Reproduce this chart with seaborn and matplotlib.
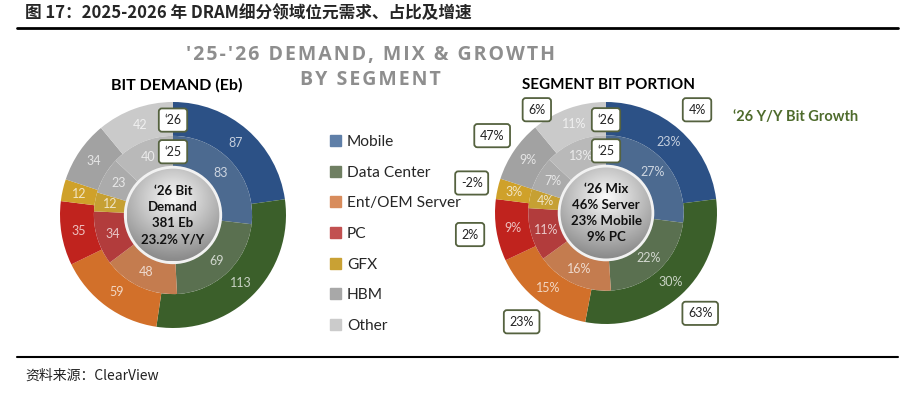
import matplotlib.pyplot as plt
import numpy as np
import seaborn as sns
from matplotlib.colors import to_rgb
from matplotlib.lines import Line2D
from matplotlib.patches import Circle, Patch

segments = ["Mobile", "Data Center", "Ent/OEM Server", "PC", "GFX", "HBM", "Other"]
demand_26 = [87, 113, 59, 35, 12, 34, 42]
demand_25 = [83, 69, 48, 34, 12, 23, 40]
mix_26 = [23, 30, 15, 9, 3, 9, 11]
mix_25 = [27, 22, 16, 11, 4, 7, 13]
growth_26 = [4, 63, 23, 2, -2, 47, 6]

outer_colors = sns.color_palette(["#2C5186", "#3B5F2A", "#D2702A", "#C0231E",
                                  "#CFA12A", "#A2A2A2", "#CACACA"])
inner_colors = sns.color_palette(["#4C6A90", "#5A7050", "#C47C4F", "#B23C3C",
                                  "#C6A033", "#ABABAB", "#B9B9B9"])
legend_colors = sns.color_palette(["#5F7FA8", "#6F7F62", "#D88C5C", "#C25151",
                                   "#C9A134", "#A8A8A8", "#CBCBCB"])

sns.set_theme(style="white")
plt.rcParams['font.family'] = ['Lato', 'Noto Sans CJK SC', 'DejaVu Sans']

W, H = 913, 394
fig = plt.figure(figsize=(W / 100, H / 100), dpi=100)


def px(x, y):
    return x / W, 1 - y / H


def light(c, k=0.72):
    return tuple(np.array(to_rgb(c)) * (1 - k) + k)


box_edge = "#55623F"


def tag(ax, x, y, s, size=9):
    ax.text(x, y, s, ha='center', va='center', fontsize=size, color='#222222',
            bbox=dict(boxstyle='round,pad=0.45,rounding_size=0.25', fc='white',
                      ec=box_edge, lw=1.3), zorder=6)


def donut(cx, cy, R, outer, inner, fmt, center_text):
    pad = 1.45
    ax = fig.add_axes([(cx - pad * R) / W, (H - cy - pad * R) / H,
                       2 * pad * R / W, 2 * pad * R / H])
    rings = [(outer, 1.0, 0.30, outer_colors, 0.85),
             (inner, 0.70, 0.29, inner_colors, 0.56)]
    mids = []
    for vals, r, w, cols, lr in rings:
        wedges, _ = ax.pie(vals, radius=r, startangle=90, counterclock=False,
                           colors=cols, wedgeprops=dict(width=w, linewidth=0))
        ring_mids = []
        for wd, v, c in zip(wedges, vals, cols):
            th = (wd.theta1 + wd.theta2) / 2
            ring_mids.append(th)
            t = np.deg2rad(th)
            ax.text(lr * np.cos(t), lr * np.sin(t), fmt(v), ha='center',
                    va='center', fontsize=9, color=light(c), zorder=4)
        mids.append(ring_mids)

    # silver centre disc
    r0 = 0.41
    ax.add_patch(Circle((0, 0), r0 + 0.025, fc='#F2F2F2', ec='none', zorder=3))
    disc = Circle((0, 0), r0, fc='none', ec='none', zorder=3)
    ax.add_patch(disc)
    yy, xx = np.mgrid[-1:1:200j, -1:1:200j]
    shade = np.clip(0.98 - 0.33 * np.hypot(xx * 0.9, yy - 0.35), 0.55, 1)
    im = ax.imshow(shade, cmap='gray', vmin=0, vmax=1, origin='lower',
                   extent=[-r0, r0, -r0, r0], zorder=3)
    im.set_clip_path(disc)
    ax.text(0, 0, center_text, ha='center', va='center', fontsize=9.5,
            fontweight='bold', color='#111111', linespacing=1.4, zorder=5)

    tag(ax, 0, 0.84, "\u201826")
    tag(ax, 0, 0.56, "\u201825")

    ax.set_xlim(-pad, pad)
    ax.set_ylim(-pad, pad)
    ax.set_aspect('equal')
    ax.axis('off')
    return ax, mids[0]


donut(173, 215, 113, demand_26, demand_25, lambda v: f"{v}",
      "\u201826 Bit\nDemand\n381 Eb\n23.2% Y/Y")
ax_r, mids_r = donut(606, 213, 111, mix_26, mix_25, lambda v: f"{v}%",
                     "\u201826 Mix\n46% Server\n23% Mobile\n9% PC")

# growth tags sit just outside the outer ring; the top one is pulled in
# and swung left so it clears the panel heading
for th, g in zip(mids_r, growth_26):
    r = 1.24
    if np.sin(np.deg2rad(th)) > 0.85:
        th += 14
        r = 1.12
    t = np.deg2rad(th)
    tag(ax_r, r * np.cos(t), r * np.sin(t), f"{g}%", size=9)

# headings
fig.text(*px(25, 13), "图 17：2025-2026 年 DRAM细分领域位元需求、占比及增速",
         fontsize=12, fontweight='bold', va='center', ha='left',
         family=['Noto Sans CJK SC', 'DejaVu Sans'])
fig.add_artist(Line2D([17 / W, 898 / W], [1 - 28 / H] * 2, color='black', lw=2))
fig.add_artist(Line2D([17 / W, 898 / W], [1 - 357 / H] * 2, color='black', lw=1.5))
fig.text(*px(25, 376), "资料来源：ClearView", fontsize=10, style='italic',
         va='center', ha='left', color='#222222',
         family=['Noto Sans CJK SC', 'DejaVu Sans'])


def spaced(s):
    return "\u200a".join(s)


fig.text(*px(370, 55), spaced("'25-'26 DEMAND, MIX & GROWTH"), fontsize=14,
         fontweight='bold', color='#8E8E8E', ha='center', va='center',
         family=['Open Sans', 'DejaVu Sans'])
fig.text(*px(370, 80), spaced("BY SEGMENT"), fontsize=14, fontweight='bold',
         color='#8E8E8E', ha='center', va='center',
         family=['Open Sans', 'DejaVu Sans'])
fig.text(*px(177, 85), "BIT DEMAND (Eb)", fontsize=11.5, fontweight='bold',
         color='black', ha='center', va='center')
fig.text(*px(608, 85), "SEGMENT BIT PORTION", fontsize=11, fontweight='bold',
         color='black', ha='center', va='center')
fig.text(*px(733, 117), "\u201826 Y/Y Bit Growth", fontsize=10.5,
         fontweight='bold', color='#4E6B2C', ha='left', va='center')

handles = [Patch(color=c, label=s) for c, s in zip(legend_colors, segments)]
fig.legend(handles=handles, loc='upper left', bbox_to_anchor=px(330, 135),
           frameon=False, fontsize=11.2, handlelength=0.7, handleheight=0.7,
           handletextpad=0.4, labelspacing=1.07, borderpad=0, borderaxespad=0)

fig.savefig("out.png", dpi=100)
